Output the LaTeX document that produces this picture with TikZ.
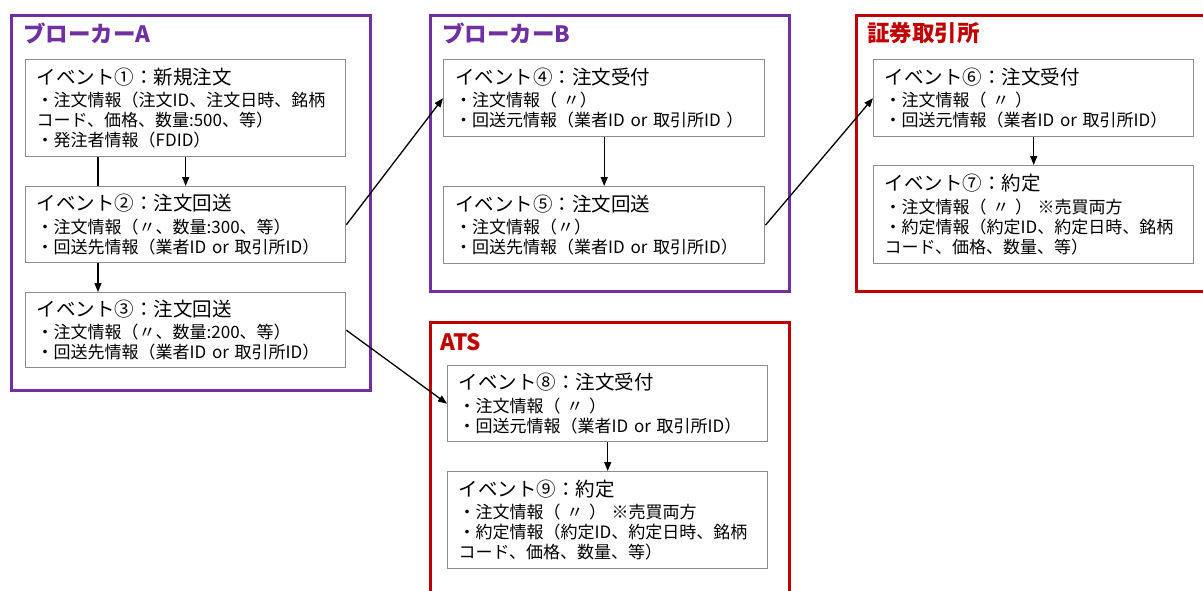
\documentclass[tikz,border=0pt]{standalone}
\usepackage{fontspec}
\setmainfont{Noto Sans CJK JP}
\usetikzlibrary{arrows.meta,backgrounds}
\definecolor{brokerpurple}{HTML}{7030A0}
\definecolor{exred}{HTML}{C00000}
\definecolor{boxgray}{HTML}{8C8C8C}
\tikzset{
  grp/.style={line width=3pt},
  grptitle/.style={anchor=west, inner sep=0pt, font=\fontsize{22.5}{26}\selectfont\bfseries},
  evbox/.style={draw=boxgray, line width=1.4pt, fill=white, anchor=north west, align=left,
    inner xsep=11pt, inner ysep=0pt, text width=298pt, minimum width=320pt,
    font=\fontsize{17}{20}\selectfont},
  arr/.style={line width=1.3pt, -{Triangle[length=9pt,width=7pt]}},
}
\newcommand{\evtitle}[1]{{\fontsize{19.5}{24}\selectfont #1}\\[2.6pt]}
\begin{document}
\begin{tikzpicture}[x=1pt,y=-1pt]
\clip (0,0) rectangle (1203,590);
% group frames
\draw[grp, brokerpurple] (11,15.5) rectangle (370,390);
\draw[grp, brokerpurple] (430,15.5) rectangle (789,291);
\draw[grp, exred] (856,15.5) rectangle (1215,291);
\draw[grp, exred] (430,322) rectangle (789,610);
\node[grptitle, text=brokerpurple] (tA) at (23,33) {ブローカーA};
\node[grptitle, text=brokerpurple] (tB) at (442,33) {ブローカーB};
\node[grptitle, text=exred] (tX) at (867,33) {証券取引所};
\node[grptitle, text=exred] (tS) at (440,342) {ATS};
% events
\node[evbox, minimum height=97pt] (e1) at (25,59) {\evtitle{イベント①：新規注文}・注文情報（注文ID、注文日時、銘柄\\コード、価格、数量:500、等）\\・発注者情報（FDID）};
\node[evbox, minimum height=76pt] (e2) at (25,186) {\evtitle{イベント②：注文回送}・注文情報（〃、数量:300、等）\\・回送先情報（業者ID or 取引所ID）};
\node[evbox, minimum height=75pt] (e3) at (25,292) {\evtitle{イベント③：注文回送}・注文情報（〃、数量:200、等）\\・回送先情報（業者ID or 取引所ID）};
\node[evbox, minimum width=321pt, minimum height=77pt] (e4) at (443,59) {\evtitle{イベント④：注文受付}・注文情報（ 〃）\\・回送元情報（業者ID or 取引所ID ）};
\node[evbox, minimum width=321pt, minimum height=77pt] (e5) at (443,186) {\evtitle{イベント⑤：注文回送}・注文情報（〃）\\・回送先情報（業者ID or 取引所ID）};
\node[evbox, minimum height=77pt] (e6) at (873,59) {\evtitle{イベント⑥：注文受付}・注文情報（ 〃 ）\\・回送元情報（業者ID or 取引所ID）};
\node[evbox, minimum height=98pt] (e7) at (873,165) {\evtitle{イベント⑦：約定}・注文情報（ 〃 ） ※売買両方\\・約定情報（約定ID、約定日時、銘柄\\コード、価格、数量、等）};
\node[evbox, minimum height=76pt] (e8) at (447,365) {\evtitle{イベント⑧：注文受付}・注文情報（ 〃 ）\\・回送元情報（業者ID or 取引所ID）};
\node[evbox, minimum height=97pt] (e9) at (447,471) {\evtitle{イベント⑨：約定}・注文情報（ 〃 ） ※売買両方\\・約定情報（約定ID、約定日時、銘柄\\コード、価格、数量、等）};
% connectors
\begin{scope}[on background layer]
\fill[white] (0,0) rectangle (1203,590);
\draw[arr] ([xshift=73pt]e1.south west) -- ([xshift=73pt]e3.north west);
\end{scope}
\draw[arr] (e1.south) -- (e2.north);
\draw[arr] (e4.south) -- (e5.north);
\draw[arr] (e6.south) -- (e7.north);
\draw[arr] (e8.south) -- (e9.north);
\draw[arr] (e2.east) -- (e4.west);
\draw[arr] (e5.east) -- (e6.west);
\draw[arr] (e3.east) -- (e8.west);
\end{tikzpicture}
\end{document}
